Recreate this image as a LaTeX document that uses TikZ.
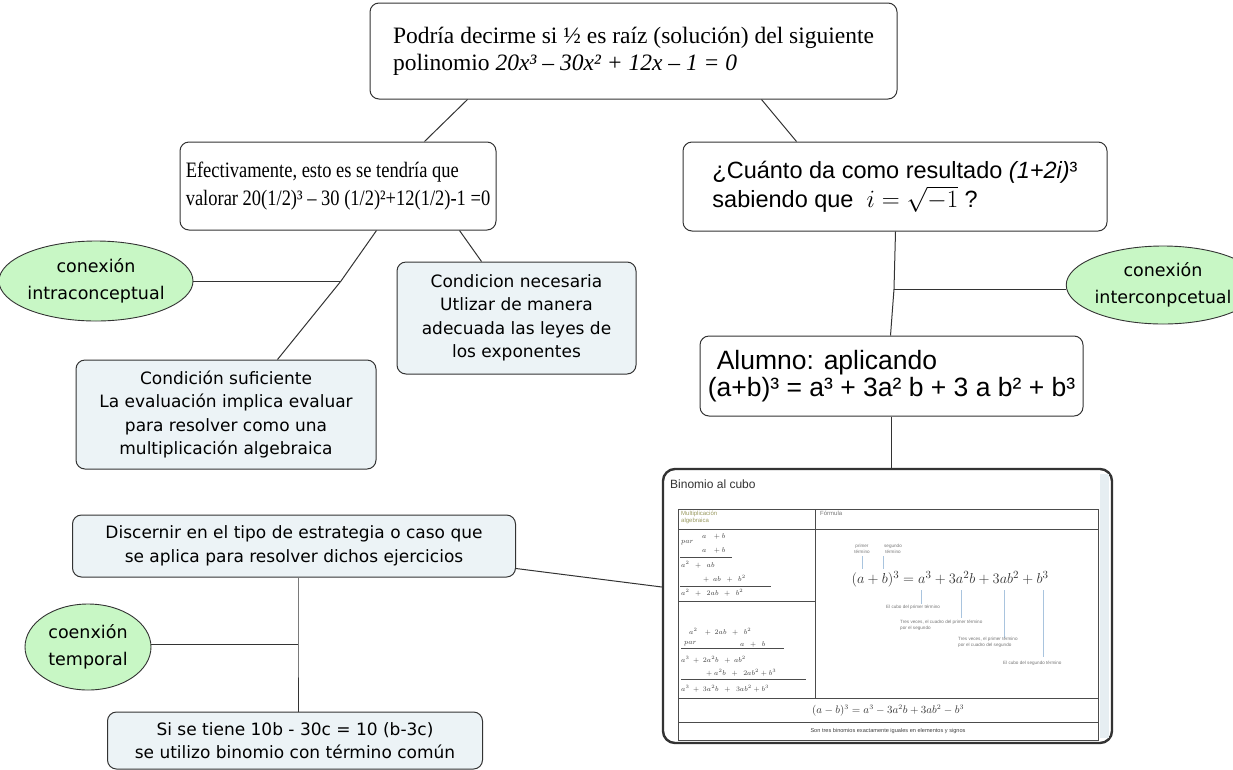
\documentclass[tikz,border=0pt]{standalone}
\usepackage{fontspec}
\setmainfont{Liberation Serif}
\newfontfamily\narrowserif[FakeStretch=0.84]{Liberation Serif}
\newfontfamily\arialf{Liberation Sans}
\newfontfamily\vera{DejaVu Sans}
\usetikzlibrary{shapes.geometric,calc}
\definecolor{boxblue}{HTML}{ECF3F6}
\definecolor{ovalgreen}{HTML}{C8F7C5}
\definecolor{edgec}{HTML}{333333}
\definecolor{tblue}{HTML}{A9C4DE}
\definecolor{lgray}{HTML}{777777}
\definecolor{olivec}{HTML}{9A9A60}
\definecolor{stripc}{HTML}{E6EEF2}
\begin{document}
\begin{tikzpicture}[x=1pt,y=-1pt,
  wbox/.style={draw=edgec, line width=1pt, rounded corners=9pt, fill=white, inner sep=0pt, align=left},
  gbox/.style={draw=edgec, line width=1pt, rounded corners=9pt, fill=boxblue, inner sep=0pt, align=center,
     font=\vera\fontsize{17}{23.5}\selectfont},
  oval/.style={ellipse, draw=edgec, line width=0.9pt, fill=ovalgreen, inner sep=0pt, align=center,
     font=\vera\fontsize{17.5}{27}\selectfont},
  link/.style={draw=edgec, line width=1pt},
  tline/.style={draw=black!70, line width=0.6pt},
  blue/.style={draw=tblue, line width=0.6pt},
  tiny/.style={font=\arialf\fontsize{4.6}{5.6}\selectfont, text=lgray, inner sep=0pt, align=left},
  mth/.style={font=\fontsize{7.5}{8}\selectfont, text=black!75, inner sep=0pt, anchor=west}
]
\useasboundingbox (0,0) rectangle (1233,769);

% ---------- main nodes ----------
\node[wbox, minimum width=527pt, minimum height=96pt, font=\fontsize{23.5}{27}\selectfont] (top) at (633.5,51)
  {Podría decirme si ½ es raíz (solución) del siguiente\\polinomio \textit{20x³ – 30x² + 12x – 1 = 0}};

\node[wbox, minimum width=316pt, minimum height=88pt, font=\narrowserif\fontsize{22}{28}\selectfont] (ef) at (338,186)
  {Efectivamente, esto es se tendría que\\valorar 20(1/2)³ – 30 (1/2)²+12(1/2)-1 =0};

\node[wbox, minimum width=424pt, minimum height=89pt, font=\arialf\fontsize{23.5}{29}\selectfont] (cu) at (895,186.5)
  {¿Cuánto da como resultado \textit{(1+2i)}³\\sabiendo que \ $i=\smash{\sqrt{-1}}$ ?};

\node[wbox, minimum width=383pt, minimum height=80pt, font=\arialf\fontsize{26.5}{27}\selectfont] (al) at (891.5,376)
  {\hspace*{9pt}Alumno: aplicando\\(a+b)³ = a³ + 3a² b + 3 a b² + b³};

\node[gbox, minimum width=239pt, minimum height=112pt] (cn) at (516.5,318)
  {Condicion necesaria\\Utlizar de manera\\adecuada las leyes de\\los exponentes};

\node[gbox, minimum width=300pt, minimum height=109pt] (cs) at (226,414.5)
  {Condición suficiente\\La evaluación implica evaluar\\para resolver como una\\multiplicación algebraica};

\node[gbox, minimum width=443pt, minimum height=62pt] (di) at (294,546)
  {Discernir en el tipo de estrategia o caso que\\se aplica para resolver dichos ejercicios};

\node[gbox, minimum width=375pt, minimum height=57pt] (st) at (295,740.5)
  {Si se tiene 10b - 30c = 10 (b-3c)\\se utilizo binomio con término común};

\node[oval, minimum width=166pt, minimum height=80pt] (intra) at (96,281) {conexión\\intraconceptual};
\node[oval, minimum width=150pt, minimum height=78pt] (inter) at (1163,285) {conexión\\interconpcetual};
\node[oval, minimum width=126pt, minimum height=86pt] (temp) at (88,647) {coenxión\\temporal};

% ---------- embedded picture: Binomio al cubo ----------
\node[draw=edgec, line width=2.4pt, rounded corners=12pt, fill=white, minimum width=449pt, minimum height=274pt, inner sep=0pt] (img) at (887.5,606) {};
\fill[stripc] ($(img.north east)+(-13,6)$) rectangle ($(img.south east)+(-4,-6)$);
\node[font=\arialf\fontsize{12}{14}\selectfont, text=black!80, anchor=west, inner sep=0pt] (ttl) at (670,484) {Binomio al cubo};

% table frame
\draw[tline] (678,509) rectangle (1098,740);
\draw[tline] (678,529) -- (1098,529);
\draw[tline] (815,509) -- (815,698);
\draw[tline] (678,601) -- (815,601);
\draw[tline] (678,698) -- (1098,698);
\draw[tline] (678,722) -- (1098,722);
\node[tiny, font=\arialf\fontsize{6}{7}\selectfont, text=olivec, anchor=north west] (h1) at (681,511) {Multiplicación\\algebraica};
\node[tiny, font=\arialf\fontsize{6}{7}\selectfont, anchor=north west] (h2) at (820,511) {Fórmula};

% upper-left multiplication
\node[mth] (m1) at (702,536) {$a\ \ \ +b$};
\node[mth] (m2) at (681,543) {$par$};
\node[mth] (m3) at (702,550) {$a\ \ \ +b$};
\draw[tline] (680,557) -- (732,557);
\node[mth] (m4) at (681,565) {$a^2\ \ +\ \ ab$};
\node[mth] (m5) at (703,579) {$+\ \ ab\ \ +\ \ b^2$};
\draw[tline] (680,586) -- (771,586);
\node[mth] (m6) at (681,593) {$a^2\ \ +\ \ 2ab\ \ +\ \ b^2$};

% lower-left multiplication
\node[mth] (n1) at (689,632) {$a^2\ \ \ +\ 2ab\ \ +\ \ b^2$};
\node[mth] (n2) at (684,644) {$par$};
\node[mth] (n3) at (740,644) {$a\ \ +\ \ b$};
\draw[tline] (681,648) -- (784,648);
\node[mth] (n4) at (681,660) {$a^3\ +\ 2a^2b\ \ +\ ab^2$};
\node[mth] (n5) at (706,673) {$+\ a^2b\ \ +\ \ 2ab^2+b^3$};
\draw[tline] (681,679) -- (806,679);
\node[mth] (n6) at (681,689) {$a^3\ +\ 3a^2b\ \ +\ \ 3ab^2+b^3$};

% formula with annotations
\node[tiny, align=center] (pt) at (862,549) {primer\\término};
\node[tiny, align=center] (st2) at (893,549) {segundo\\término};
\draw[blue] (862,556) -- (862,569);
\draw[blue] (883,556) -- (883,569);
\node[font=\fontsize{15.5}{17}\selectfont, text=black!80, inner sep=0pt] (fm) at (950,579) {$(a+b)^3=a^3+3a^2b+3ab^2+b^3$};
\draw[blue] (921,590) -- (921,604);
\draw[blue] (961,590) -- (961,618);
\draw[blue] (1004,590) -- (1004,638);
\draw[blue] (1043,590) -- (1043,657);
\node[tiny, anchor=west] (l1) at (886,607) {El cubo del primer término};
\node[tiny, anchor=north west] (l2) at (900,620) {Tres veces, el cuadro del primer término\\por el segundo};
\node[tiny, anchor=north west] (l3) at (958,637) {Tres veces, el primer término\\por el cuadro del segundo};
\node[tiny, anchor=west] (l4) at (1003,663) {El cubo del segundo término};

\node[font=\fontsize{10.5}{12}\selectfont, text=black!80, inner sep=0pt] (fm2) at (888,711) {$(a-b)^3=a^3-3a^2b+3ab^2-b^3$};
\node[tiny, font=\arialf\fontsize{5.6}{6.5}\selectfont, text=black!75] (sn) at (888,731.5) {Son tres binomios exactamente iguales en elementos y signos};

% ---------- connectors ----------
\coordinate (j1) at (341,281);
\coordinate (j2) at (894,289);
\coordinate (j3) at (298,644);

\draw[link] ($(top.south west)+(98,0)$) -- ($(ef.north west)+(245,0)$);
\draw[link] ($(top.south west)+(392,0)$) -- ($(cu.north west)+(114,0)$);

\draw[link] ($(ef.south west)+(197,0)$) -- (j1) -- ($(cs.north west)+(202,0)$);
\draw[link] (intra.east) -- (j1);
\draw[link] ($(ef.south west)+(280,0)$) -- ($(cn.north west)+(85,0)$);

\draw[link] ($(cu.south west)+(213,0)$) -- (j2) -- ($(al.north west)+(191,0)$);
\draw[link] (inter.west |- j2) -- (j2);

\draw[link] (al.south) -- (al.south |- img.north);

\draw[link] ($(di.south east)+(0,-9)$) -- ($(img.west)+(0,-19)$);
\draw[link] (di.south -| j3) -- (j3) -- (j3 |- st.north);
\draw[link] (temp.east |- j3) -- (j3);
\end{tikzpicture}
\end{document}
